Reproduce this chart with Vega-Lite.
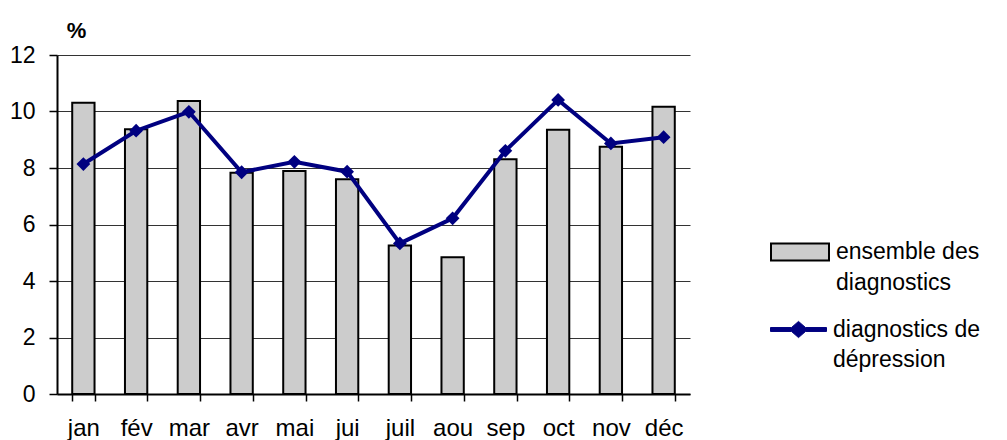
{
  "$schema": "https://vega.github.io/schema/vega-lite/v6.json",
  "width": 633,
  "height": 339,
  "autosize": {"type": "none"},
  "padding": {"left": 57, "top": 55, "right": 317, "bottom": 46},
  "background": "white",
  "config": {
    "view": {"stroke": null},
    "font": "Liberation Sans"
  },
  "data": {
    "values": [
      {"month": "jan", "total": 10.31, "dep": 8.14},
      {"month": "fév", "total": 9.37, "dep": 9.32},
      {"month": "mar", "total": 10.37, "dep": 9.99},
      {"month": "avr", "total": 7.83, "dep": 7.85},
      {"month": "mai", "total": 7.89, "dep": 8.22},
      {"month": "jui", "total": 7.6, "dep": 7.87},
      {"month": "juil", "total": 5.26, "dep": 5.33},
      {"month": "aou", "total": 4.84, "dep": 6.22},
      {"month": "sep", "total": 8.31, "dep": 8.61},
      {"month": "oct", "total": 9.35, "dep": 10.41},
      {"month": "nov", "total": 8.75, "dep": 8.87},
      {"month": "déc", "total": 10.17, "dep": 9.09}
    ]
  },
  "encoding": {
    "x": {
      "field": "month",
      "type": "nominal",
      "sort": null,
      "scale": {"paddingInner": 0.577, "paddingOuter": 0.2885},
      "axis": {
        "title": null,
        "labelAngle": 0,
        "labelFontSize": 24,
        "labelColor": "black",
        "labelPadding": 15,
        "tickBand": "extent",
        "tickSize": 7,
        "tickColor": "black",
        "tickWidth": 1.5,
        "domainColor": "black",
        "domainWidth": 2,
        "grid": false
      }
    }
  },
  "layer": [
    {
      "mark": {"type": "bar", "stroke": "black", "strokeWidth": 2},
      "encoding": {
        "y": {
          "field": "total",
          "type": "quantitative",
          "scale": {"domain": [0, 12], "nice": false},
          "axis": {
            "values": [0, 2, 4, 6, 8, 10, 12],
            "title": "%",
            "titleAngle": 0,
            "titleFontSize": 22,
            "titleFontWeight": "bold",
            "titleColor": "black",
            "titleX": 19,
            "titleY": -25,
            "titleAlign": "center",
            "titleBaseline": "middle",
            "labelFontSize": 23,
            "labelColor": "black",
            "labelPadding": 14,
            "tickSize": 8,
            "tickColor": "black",
            "tickWidth": 1.5,
            "domainColor": "black",
            "domainWidth": 2,
            "grid": true,
            "gridColor": "#333333",
            "gridWidth": 1
          }
        },
        "fill": {
          "datum": "ensemble des diagnostics",
          "scale": {"range": ["#cccccc"]},
          "legend": {
            "title": null,
            "orient": "none",
            "legendX": 713,
            "legendY": 167,
            "symbolType": "M-1,-0.29H1V0.29H-1Z",
            "symbolSize": 3364,
            "symbolStrokeColor": "black",
            "symbolStrokeWidth": 2,
            "labelFontSize": 23,
            "labelColor": "black",
            "labelOffset": 6,
            "labelLimit": 0,
            "labelBaseline": "middle",
            "labelExpr": "['ensemble des', 'diagnostics']",
            "encode": {"labels": {"update": {"lineHeight": {"value": 31}}}}
          }
        }
      }
    },
    {
      "mark": {"type": "line", "strokeWidth": 4},
      "encoding": {
        "y": {"field": "dep", "type": "quantitative"},
        "stroke": {
          "datum": "diagnostics de dépression",
          "scale": {"range": ["#000080"]},
          "legend": {
            "title": null,
            "orient": "none",
            "legendX": 713,
            "legendY": 246,
            "symbolType": "M-1,-0.07H-0.25L0,-0.29L0.25,-0.07H1V0.07H0.25L0,0.29L-0.25,0.07H-1Z",
            "symbolSize": 3136,
            "symbolFillColor": "#000080",
            "symbolStrokeWidth": 1,
            "labelFontSize": 23,
            "labelColor": "black",
            "labelOffset": 6,
            "labelLimit": 0,
            "labelBaseline": "middle",
            "labelExpr": "['diagnostics de', 'dépression']",
            "encode": {"labels": {"update": {"lineHeight": {"value": 30}}}}
          }
        }
      }
    },
    {
      "mark": {"type": "point", "shape": "diamond", "filled": true, "color": "#000080", "size": 190, "opacity": 1},
      "encoding": {
        "y": {"field": "dep", "type": "quantitative"}
      }
    }
  ]
}
